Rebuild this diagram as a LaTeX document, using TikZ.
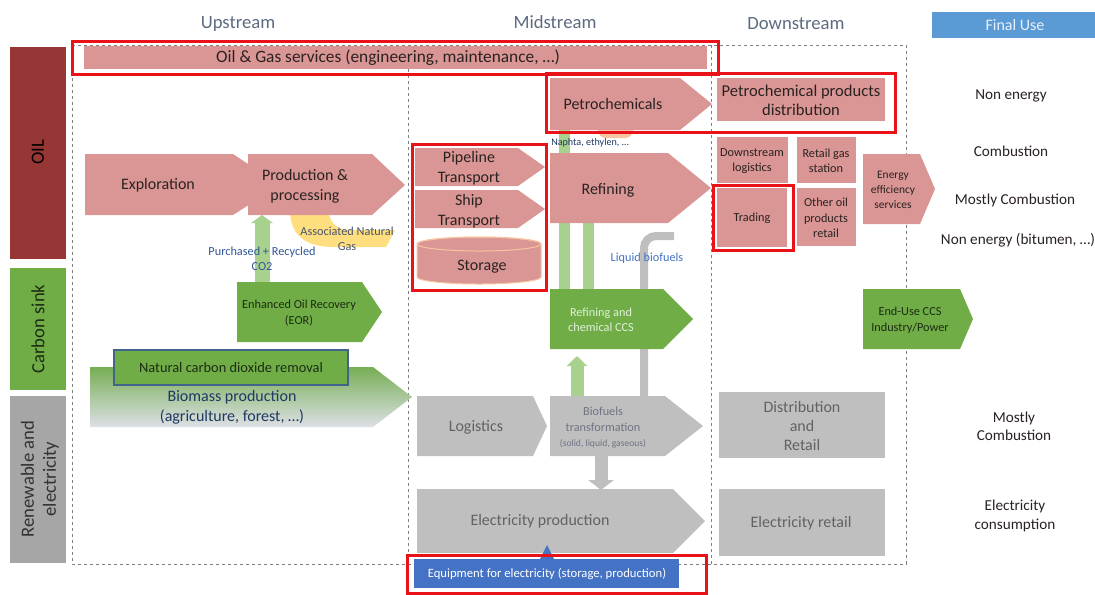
\documentclass[tikz,border=0pt]{standalone}
\usepackage{fontspec}
\setmainfont{Carlito}
\usetikzlibrary{arrows.meta}

\definecolor{oilpink}{RGB}{217,150,148}
\definecolor{oilred}{RGB}{150,55,53}
\definecolor{sinkgreen}{RGB}{112,173,71}
\definecolor{pipegreen}{RGB}{169,209,142}
\definecolor{rengray}{RGB}{191,191,191}
\definecolor{catgray}{RGB}{166,166,166}
\definecolor{framered}{RGB}{232,18,24}
\definecolor{equipblue}{RGB}{68,114,196}
\definecolor{finalblue}{RGB}{91,155,213}
\definecolor{headtxt}{RGB}{92,106,128}
\definecolor{darktxt}{RGB}{42,34,34}
\definecolor{graytxt}{RGB}{98,98,98}
\definecolor{biotxtgray}{RGB}{110,116,130}
\definecolor{notegray}{RGB}{68,84,106}
\definecolor{noteblue}{RGB}{47,85,151}
\definecolor{gasyellow}{RGB}{255,222,128}
\definecolor{naphorange}{RGB}{248,196,160}
\definecolor{biotxt}{RGB}{31,56,100}
\definecolor{dashgray}{RGB}{128,128,128}
\definecolor{biogreen}{RGB}{118,174,84}
\definecolor{bioblue}{RGB}{158,188,232}
\definecolor{biogray}{RGB}{222,224,230}
\definecolor{ncdrline}{RGB}{65,100,140}
\definecolor{ccstxt}{RGB}{226,240,217}
\definecolor{fuhead}{RGB}{232,240,250}
\definecolor{sinktxt}{RGB}{28,44,18}

\tikzset{every picture/.style={line width=0.75pt}}
\tikzset{
  oilshape/.style={fill=oilpink},
  sinkshape/.style={fill=sinkgreen},
  renshape/.style={fill=rengray},
  redframe/.style={draw=framered, line width=2.25pt},
  stageline/.style={draw=dashgray, line width=0.6pt, dash pattern=on 2.5pt off 2pt},
  lbl/.style={inner sep=0.75pt, align=center, text=darktxt},
  fhead/.style={font=\fontsize{14}{16.5}\selectfont},
  fbig/.style={font=\fontsize{12}{15}\selectfont},
  fmid/.style={font=\fontsize{10.8}{13.5}\selectfont},
  ffinal/.style={font=\fontsize{11.4}{13.6}\selectfont},
  fsml/.style={font=\fontsize{9.2}{11.6}\selectfont},
  greenpipe/.style={draw=pipegreen, line width=8.25pt},
  graypipe/.style={draw=rengray, line width=6pt},
}

\begin{document}
\begin{tikzpicture}[x=0.75pt,y=0.75pt,yscale=-1,xscale=1]
\useasboundingbox (0,0) rectangle (1095,594);

%Shape: stage frame (dashed)
\draw[stageline] (72,45) -- (906,45) -- (906,564) -- (72,564) -- cycle;
\draw[stageline] (408,45) -- (408,564);
\draw[stageline] (711,45) -- (711,564);

%Shape: category bars
\fill[oilred] (10,47) rectangle (66,259);
\fill[sinkgreen] (10,268) rectangle (66,390);
\fill[catgray] (10,396) rectangle (66,563);
%Shape: final use header
\fill[finalblue] (932,12) rectangle (1095,38);

% connector end points
\coordinate (petro-s) at (564,130);
\coordinate (ccs-na) at (564,289);
\coordinate (refin-s) at (588,223);
\coordinate (ccs-nb) at (588,289);
\coordinate (biof-ng) at (644,396);
\coordinate (liq-end) at (674,236);
\coordinate (biof-nc) at (577,396);
\coordinate (ccs-in) at (577,356);
\coordinate (biof-s) at (601,456);
\coordinate (elec-n) at (601,490);
\coordinate (eor-n) at (262,282);
\coordinate (prod-s) at (262,215);
\coordinate (equip-n) at (547,559);
\coordinate (elec-s) at (547,545);

%Pipes behind the shapes
\draw[greenpipe] (petro-s) -- (ccs-na);
\draw[greenpipe] (refin-s) -- (ccs-nb);
\draw[graypipe, rounded corners=9] (biof-ng) -- (644,236) -- (liq-end);
\fill[naphorange, rounded corners=6] (598,123) rectangle (633,138);

%Shape: Associated natural gas band
\fill[gasyellow] (290,214) .. controls (292,236) and (306,247) .. (334,247) -- (386,247) -- (395,230) -- (350,230) .. controls (338,230) and (331,224) .. (329,214) -- cycle;

%Shape: Oil & Gas services
\fill[oilshape] (84,46) rectangle (707,69);
%Shape: Exploration
\fill[oilshape] (85,154) -- (233,154) -- (280,185) -- (233,215) -- (85,215) -- cycle;
%Shape: Production
\fill[oilshape] (248,154) -- (372,154) -- (405,185) -- (372,215) -- (248,215) -- cycle;
%Shape: Pipeline / Ship transport
\fill[oilshape] (415,148) -- (518,148) -- (545,167) -- (518,186) -- (415,186) -- cycle;
\fill[oilshape] (415,190) -- (518,190) -- (545,209) -- (518,228) -- (415,228) -- cycle;
%Shape: Storage cylinder
\draw[draw=naphorange, fill=oilpink] (417,244) -- (417,277) arc[start angle=180, end angle=0, x radius=62, y radius=7] -- (541,244) arc[start angle=0, end angle=-180, x radius=62, y radius=7] -- cycle;
\draw[draw=naphorange] (479,244) ellipse [x radius=62, y radius=7];
%Shape: Petrochemicals
\fill[oilshape] (550,78) -- (680,78) -- (712,104) -- (680,130) -- (550,130) -- cycle;
\fill[oilshape] (717,78) rectangle (885,121);
%Shape: Refining
\fill[oilshape] (550,153) -- (668,153) -- (711,188) -- (668,223) -- (550,223) -- cycle;
%Shape: downstream oil boxes
\fill[oilshape] (717,137) rectangle (788,183);
\fill[oilshape] (797,137) rectangle (856,183);
\fill[oilshape] (717,188) rectangle (787,247);
\fill[oilshape] (797,188) rectangle (856,246);
\fill[oilshape] (863,154) -- (920,154) -- (935,189) -- (920,224) -- (863,224) -- cycle;

%Shape: carbon sink arrows
\fill[sinkshape] (237,282) -- (362,282) -- (382,312) -- (362,342) -- (237,342) -- cycle;
\shade[top color=biogreen, middle color=bioblue, bottom color=biogray] (90,367) -- (373,367) -- (412,397) -- (373,427) -- (90,427) -- cycle;
\draw[fill=sinkgreen, draw=ncdrline, line width=0.9pt] (114,350) rectangle (348,385);
\fill[sinkshape] (550,289) -- (663,289) -- (693,319) -- (663,349) -- (550,349) -- cycle;
\fill[sinkshape] (863,289) -- (960,289) -- (973,319) -- (960,349) -- (863,349) -- cycle;

%Shape: renewable chain
\fill[renshape] (417,396) -- (533,396) -- (547,426) -- (533,456) -- (417,456) -- cycle;
\fill[renshape] (550,396) -- (665,396) -- (703,426) -- (665,456) -- (550,456) -- cycle;
\fill[renshape] (417,489) -- (673,489) -- (705,521) -- (673,553) -- (417,553) -- cycle;
\fill[renshape] (719,392) rectangle (885,458);
\fill[renshape] (719,489) rectangle (885,556);
\fill[equipblue] (414,559) rectangle (679,588);

%Block arrows
\draw[draw=pipegreen, line width=11.25pt, -{Triangle[length=6pt, width=16pt]}] (eor-n) -- (prod-s);
\draw[draw=pipegreen, line width=9.75pt, -{Triangle[length=7.5pt, width=15pt]}] (biof-nc) -- (ccs-in);
\draw[draw=rengray, line width=9.75pt, -{Triangle[length=7.5pt, width=18.75pt]}] (biof-s) -- (elec-n);
\fill[equipblue] ([xshift=-5.25pt]equip-n) -- (elec-s) -- ([xshift=5.25pt]equip-n) -- cycle;

%Red frames
\draw[redframe] (72,41) rectangle (718,74);
\draw[redframe] (546,73) rectangle (895,132);
\draw[redframe] (412,144) rectangle (546,290);
\draw[redframe] (713,185) rectangle (793,250);
\draw[redframe] (407,555) rectangle (706,593);

% Text Node: headers
\draw (238,24) node [lbl, fhead, text=headtxt] (hdup) {Upstream};
\draw (555,22) node [lbl, fhead, text=headtxt] (hdmid) {Midstream};
\draw (796,24) node [lbl, fhead, text=headtxt] (hddown) {Downstream};
\draw (1015,25) node [lbl, fbig, text=fuhead] (hdfinal) {Final Use};
% Text Node: categories
\draw (38,152) node [lbl, fhead, rotate=90, text=black] (catoil) {OIL};
\draw (38,329) node [lbl, fhead, rotate=90, text=sinktxt] (catsink) {Carbon sink};
\draw (40,479) node [lbl, fhead, rotate=90, text={rgb,255:red,50;green,50;blue,50}] (catren) {Renewable and\\electricity};
% Text Node: oil chain
\draw (388,58) node [lbl, font=\fontsize{13}{15}\selectfont] (oilsvc) {Oil \& Gas services (engineering, maintenance, \dots)};
\draw (158,185) node [lbl, fbig] (expl) {Exploration};
\draw (305,186) node [lbl, fbig] (prod) {Production \&\\processing};
\draw (469,168) node [lbl, fbig] (pipe) {Pipeline\\Transport};
\draw (469,211) node [lbl, fbig] (ship) {Ship\\Transport};
\draw (482,267) node [lbl, fbig] (stor) {Storage};
\draw (613,104) node [lbl, fbig] (petro) {Petrochemicals};
\draw (801,100) node [lbl, font=\fontsize{12.4}{14.5}\selectfont] (pdist) {Petrochemical products\\distribution};
\draw (608,190) node [lbl, fbig] (refin) {Refining};
\draw (590,143) node [lbl, font=\fontsize{7.6}{9}\selectfont, text=biotxt] (naph) {Naphta, ethylen, \dots};
\draw (752,161) node [lbl, fsml] (dlog) {Downstream\\logistics};
\draw (826,161) node [lbl, fsml] (rgas) {Retail gas\\station};
\draw (752,218) node [lbl, fsml] (trad) {Trading};
\draw (826,218) node [lbl, fsml] (ooil) {Other oil\\products\\retail};
\draw (893,190) node [lbl, font=\fontsize{8.6}{11.3}\selectfont] (eeff) {Energy\\efficiency\\services};
% Text Node: notes
\draw (262,259) node [lbl, fsml, text=noteblue] (co2lbl) {Purchased + Recycled\\CO2};
\draw (347,239) node [lbl, fsml, text=notegray] (gaslbl) {Associated Natural\\Gas};
\draw (647,258) node [lbl, fsml, text=equipblue] (liqlbl) {Liquid biofuels};
% Text Node: carbon sink
\draw (299,313) node [lbl, fsml, text=sinktxt] (eor) {Enhanced Oil Recovery\\(EOR)};
\draw (231,368) node [lbl, fmid, text=sinktxt] (ncdr) {Natural carbon dioxide removal};
\draw (232,407) node [lbl, fbig, text=biotxt] (biom) {Biomass production\\(agriculture, forest, \dots)};
\draw (601,320) node [lbl, fsml, text=ccstxt] (ccs) {Refining and\\chemical CCS};
\draw (910,320) node [lbl, fsml, text=sinktxt] (eucs) {End-Use CCS\\Industry/Power};
% Text Node: renewable chain
\draw (476,427) node [lbl, fbig, text=graytxt] (logi) {Logistics};
\draw (603,428) node [lbl, fsml, text=biotxtgray] (biof) {Biofuels\\transformation\\{\fontsize{7.2}{9}\selectfont(solid, liquid, gaseous)}};
\draw (540,521) node [lbl, fbig, text=graytxt] (elec) {Electricity production};
\draw (547,574) node [lbl, font=\fontsize{9.5}{11}\selectfont, text=white] (equip) {Equipment for electricity (storage, production)};
\draw (802,426) node [lbl, text=graytxt, font=\fontsize{12}{14.5}\selectfont] (dret) {Distribution\\and\\Retail};
\draw (801,523) node [lbl, fbig, text=graytxt] (eret) {Electricity retail};
% Text Node: final use
\draw (1011,96) node [lbl, ffinal] (fuone) {Non energy};
\draw (1011,151) node [lbl, ffinal] (futwo) {Combustion};
\draw (1015,200) node [lbl, ffinal] (futhree) {Mostly Combustion};
\draw (1018,240) node [lbl, ffinal] (fufour) {Non energy (bitumen, \dots)};
\draw (1014,426) node [lbl, ffinal] (fufive) {Mostly\\Combustion};
\draw (1015,516) node [lbl, ffinal] (fusix) {Electricity\\consumption};

\end{tikzpicture}
\end{document}
